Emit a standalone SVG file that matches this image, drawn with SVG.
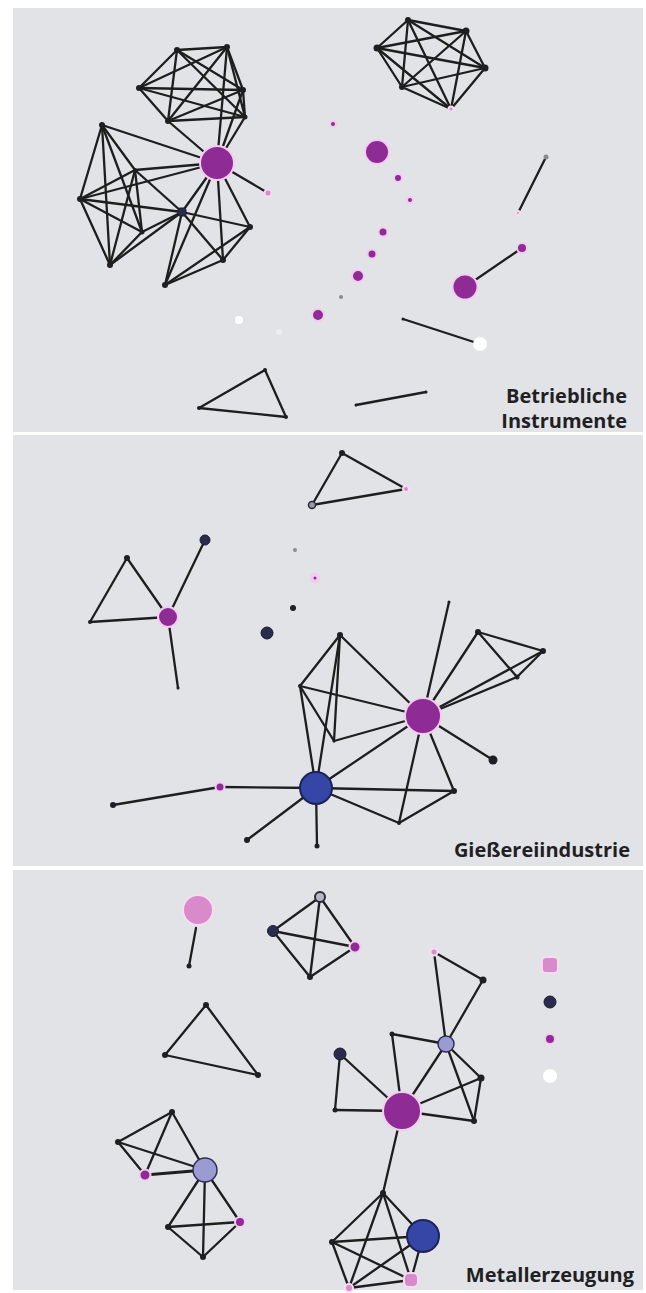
<svg xmlns="http://www.w3.org/2000/svg" width="646" height="1293" viewBox="0 0 646 1293">
<style>
.bg{fill:#e2e3e6}
.e line{stroke:#1e1e1e;stroke-width:2.3;stroke-linecap:round}
.k{fill:#1e1e24}
.nv{fill:#2b2b4e;stroke:#1a1a30;stroke-width:1}
.mg{fill:#8e2b94;stroke:#f2cdef;stroke-width:2}
.pk{fill:#d98acb;stroke:#f5dcf0;stroke-width:2}
.bl{fill:#3546a6;stroke:#1c2358;stroke-width:2}
.lv{fill:#9b9bd2;stroke:#2e2e58;stroke-width:1.5}
.wh{fill:#ffffff}
.gr{fill:#8a8a92}
.lbl{font-family:"Open Sans","DejaVu Sans",sans-serif;font-weight:bold;font-size:20px;fill:#1f1f24;text-anchor:end}
</style>
<rect width="646" height="1293" fill="#ffffff"/>
<rect class="bg" x="13" y="8" width="630" height="424"/>
<rect class="bg" x="13" y="435" width="630" height="431"/>
<rect class="bg" x="13" y="870" width="630" height="420"/>
<g id="connectors" class="e">
<line x1="177" y1="50" x2="227" y2="47"/><line x1="177" y1="50" x2="243" y2="90"/><line x1="177" y1="50" x2="245" y2="117"/><line x1="177" y1="50" x2="168" y2="121"/><line x1="177" y1="50" x2="139" y2="88"/>
<line x1="227" y1="47" x2="243" y2="90"/><line x1="227" y1="47" x2="245" y2="117"/><line x1="227" y1="47" x2="168" y2="121"/><line x1="227" y1="47" x2="139" y2="88"/>
<line x1="243" y1="90" x2="245" y2="117"/><line x1="243" y1="90" x2="168" y2="121"/><line x1="243" y1="90" x2="139" y2="88"/>
<line x1="245" y1="117" x2="168" y2="121"/><line x1="245" y1="117" x2="139" y2="88"/>
<line x1="168" y1="121" x2="139" y2="88"/>
<line x1="217" y1="163" x2="168" y2="121"/><line x1="217" y1="163" x2="245" y2="117"/><line x1="217" y1="163" x2="243" y2="90"/><line x1="217" y1="163" x2="227" y2="47"/>
<line x1="102" y1="125" x2="80" y2="199"/><line x1="102" y1="125" x2="110" y2="265"/><line x1="102" y1="125" x2="142" y2="232"/><line x1="102" y1="125" x2="135" y2="170"/>
<line x1="80" y1="199" x2="110" y2="265"/><line x1="80" y1="199" x2="142" y2="232"/><line x1="80" y1="199" x2="135" y2="170"/>
<line x1="110" y1="265" x2="142" y2="232"/><line x1="110" y1="265" x2="135" y2="170"/>
<line x1="142" y1="232" x2="135" y2="170"/>
<line x1="217" y1="163" x2="102" y2="125"/><line x1="217" y1="163" x2="135" y2="170"/><line x1="217" y1="163" x2="80" y2="199"/>
<line x1="182" y1="212" x2="80" y2="199"/><line x1="182" y1="212" x2="110" y2="265"/><line x1="182" y1="212" x2="142" y2="232"/><line x1="182" y1="212" x2="135" y2="170"/>
<line x1="182" y1="212" x2="217" y2="163"/><line x1="182" y1="212" x2="165" y2="285"/><line x1="182" y1="212" x2="250" y2="227"/><line x1="182" y1="212" x2="223" y2="260"/>
<line x1="217" y1="163" x2="250" y2="227"/><line x1="217" y1="163" x2="223" y2="260"/><line x1="217" y1="163" x2="165" y2="285"/>
<line x1="250" y1="227" x2="223" y2="260"/><line x1="250" y1="227" x2="165" y2="285"/><line x1="223" y1="260" x2="165" y2="285"/>
<line x1="217" y1="163" x2="268" y2="193"/>
<line x1="408" y1="20" x2="466" y2="31"/><line x1="408" y1="20" x2="485" y2="68"/><line x1="408" y1="20" x2="451" y2="109"/><line x1="408" y1="20" x2="402" y2="87"/><line x1="408" y1="20" x2="377" y2="48"/>
<line x1="466" y1="31" x2="485" y2="68"/><line x1="466" y1="31" x2="451" y2="109"/><line x1="466" y1="31" x2="402" y2="87"/><line x1="466" y1="31" x2="377" y2="48"/>
<line x1="485" y1="68" x2="451" y2="109"/><line x1="485" y1="68" x2="402" y2="87"/><line x1="485" y1="68" x2="377" y2="48"/>
<line x1="451" y1="109" x2="402" y2="87"/><line x1="451" y1="109" x2="377" y2="48"/>
<line x1="402" y1="87" x2="377" y2="48"/>
<line x1="546" y1="157" x2="518" y2="213"/>
<line x1="465" y1="287" x2="522" y2="248"/>
<line x1="403" y1="319" x2="480" y2="344"/>
<line x1="265" y1="370" x2="199" y2="408"/><line x1="265" y1="370" x2="286" y2="417"/><line x1="199" y1="408" x2="286" y2="417"/>
<line x1="356" y1="405" x2="426" y2="392"/>
<line x1="342" y1="453" x2="312" y2="505"/><line x1="342" y1="453" x2="406" y2="489"/><line x1="312" y1="505" x2="406" y2="489"/>
<line x1="127" y1="558" x2="90" y2="622"/><line x1="127" y1="558" x2="168" y2="617"/><line x1="90" y1="622" x2="168" y2="617"/>
<line x1="168" y1="617" x2="205" y2="540"/><line x1="168" y1="617" x2="178" y2="688"/>
<line x1="340" y1="635" x2="300" y2="686"/><line x1="340" y1="635" x2="423" y2="716"/><line x1="340" y1="635" x2="316" y2="788"/><line x1="340" y1="635" x2="334" y2="741"/>
<line x1="300" y1="686" x2="423" y2="716"/><line x1="300" y1="686" x2="316" y2="788"/><line x1="300" y1="686" x2="334" y2="741"/>
<line x1="334" y1="741" x2="423" y2="716"/><line x1="316" y1="788" x2="423" y2="716"/>
<line x1="316" y1="788" x2="454" y2="791"/><line x1="316" y1="788" x2="399" y2="823"/>
<line x1="423" y1="716" x2="449" y2="602"/><line x1="423" y1="716" x2="478" y2="632"/><line x1="423" y1="716" x2="543" y2="651"/><line x1="423" y1="716" x2="517" y2="677"/>
<line x1="478" y1="632" x2="543" y2="651"/><line x1="478" y1="632" x2="517" y2="677"/><line x1="517" y1="677" x2="543" y2="651"/>
<line x1="423" y1="716" x2="493" y2="760"/><line x1="423" y1="716" x2="454" y2="791"/><line x1="423" y1="716" x2="399" y2="823"/><line x1="454" y1="791" x2="399" y2="823"/>
<line x1="316" y1="788" x2="220" y2="787"/><line x1="220" y1="787" x2="113" y2="805"/>
<line x1="316" y1="788" x2="247" y2="840"/><line x1="316" y1="788" x2="317" y2="846"/>
<line x1="196" y1="928" x2="189" y2="966"/>
<line x1="320" y1="897" x2="273" y2="931"/><line x1="320" y1="897" x2="355" y2="947"/><line x1="320" y1="897" x2="310" y2="977"/>
<line x1="273" y1="931" x2="355" y2="947"/><line x1="273" y1="931" x2="310" y2="977"/><line x1="355" y1="947" x2="310" y2="977"/>
<line x1="206" y1="1005" x2="165" y2="1055"/><line x1="206" y1="1005" x2="258" y2="1075"/><line x1="165" y1="1055" x2="258" y2="1075"/>
<line x1="434" y1="952" x2="483" y2="980"/><line x1="434" y1="952" x2="446" y2="1044"/><line x1="483" y1="980" x2="446" y2="1044"/>
<line x1="392" y1="1034" x2="446" y2="1044"/><line x1="392" y1="1034" x2="402" y2="1111"/><line x1="446" y1="1044" x2="402" y2="1111"/>
<line x1="446" y1="1044" x2="481" y2="1078"/><line x1="446" y1="1044" x2="474" y2="1121"/>
<line x1="402" y1="1111" x2="481" y2="1078"/><line x1="402" y1="1111" x2="474" y2="1121"/><line x1="481" y1="1078" x2="474" y2="1121"/>
<line x1="340" y1="1054" x2="335" y2="1110"/><line x1="340" y1="1054" x2="402" y2="1111"/><line x1="335" y1="1110" x2="402" y2="1111"/>
<line x1="402" y1="1111" x2="383" y2="1193"/>
<line x1="172" y1="1112" x2="118" y2="1142"/><line x1="172" y1="1112" x2="145" y2="1175"/><line x1="172" y1="1112" x2="205" y2="1170"/>
<line x1="118" y1="1142" x2="145" y2="1175"/><line x1="118" y1="1142" x2="205" y2="1170"/><line x1="145" y1="1175" x2="205" y2="1170" style="stroke-width:3"/>
<line x1="205" y1="1170" x2="240" y2="1222"/><line x1="205" y1="1170" x2="168" y2="1227"/><line x1="205" y1="1170" x2="203" y2="1257"/>
<line x1="168" y1="1227" x2="240" y2="1222"/><line x1="168" y1="1227" x2="203" y2="1257"/><line x1="240" y1="1222" x2="203" y2="1257"/>
<line x1="383" y1="1193" x2="332" y2="1242"/><line x1="383" y1="1193" x2="423" y2="1236"/><line x1="383" y1="1193" x2="411" y2="1280"/><line x1="383" y1="1193" x2="349" y2="1288"/>
<line x1="332" y1="1242" x2="423" y2="1236"/><line x1="332" y1="1242" x2="411" y2="1280"/><line x1="332" y1="1242" x2="349" y2="1288"/>
<line x1="423" y1="1236" x2="411" y2="1280"/><line x1="423" y1="1236" x2="349" y2="1288"/><line x1="411" y1="1280" x2="349" y2="1288"/>
</g>
<g id="panel1-nodes">
<g id="n-t1"><circle class="k" cx="177" cy="50" r="3"/></g>
<g id="n-t2"><circle class="k" cx="227" cy="47" r="3"/></g>
<g id="n-t3"><circle class="k" cx="243" cy="90" r="3"/></g>
<g id="n-t4"><circle class="k" cx="245" cy="117" r="2.5"/></g>
<g id="n-t5"><circle class="k" cx="168" cy="121" r="3"/></g>
<g id="n-t6"><circle class="k" cx="139" cy="88" r="3"/></g>
<g id="n-l1"><circle class="k" cx="102" cy="125" r="3"/></g>
<g id="n-l2"><circle class="k" cx="80" cy="199" r="3"/></g>
<g id="n-l3"><circle class="k" cx="110" cy="265" r="3"/></g>
<g id="n-l4"><circle class="k" cx="142" cy="232" r="2.5"/></g>
<g id="n-l5"><circle class="k" cx="135" cy="170" r="2"/></g>
<g id="n-nv1"><rect class="nv" x="178" y="208" width="8" height="8" rx="2"/></g>
<g id="n-b1"><circle class="k" cx="250" cy="227" r="3"/></g>
<g id="n-b2"><circle class="k" cx="223" cy="260" r="3"/></g>
<g id="n-b3"><circle class="k" cx="165" cy="285" r="3"/></g>
<g id="n-hub1"><circle class="mg" cx="217" cy="163" r="17"/></g>
<g id="n-p1"><circle class="pk" cx="268" cy="193" r="3.5"/></g>
<g id="n-r1"><circle class="k" cx="408" cy="20" r="3"/></g>
<g id="n-r2"><circle class="k" cx="466" cy="31" r="3.5"/></g>
<g id="n-r3"><circle class="k" cx="485" cy="68" r="3.5"/></g>
<g id="n-r4"><circle class="pk" cx="451" cy="109" r="2.5"/></g>
<g id="n-r5"><circle class="k" cx="402" cy="87" r="3"/></g>
<g id="n-r6"><circle class="k" cx="377" cy="48" r="3.5"/></g>
<g id="n-d1"><circle class="mg" cx="333" cy="124" r="3"/></g>
<g id="n-d2"><circle class="mg" cx="377" cy="152" r="12"/></g>
<g id="n-d3"><circle class="mg" cx="398" cy="178" r="4"/></g>
<g id="n-d4"><circle class="mg" cx="410" cy="200" r="3"/></g>
<g id="n-d5"><circle class="mg" cx="383" cy="232" r="4.5"/></g>
<g id="n-d6"><circle class="mg" cx="372" cy="254" r="4.5"/></g>
<g id="n-d7"><circle class="mg" cx="358" cy="276" r="6"/></g>
<g id="n-d8"><circle class="gr" cx="341" cy="297" r="2"/></g>
<g id="n-d9"><circle class="mg" cx="318" cy="315" r="6"/></g>
<g id="n-w1"><circle class="wh" cx="239" cy="320" r="4"/></g>
<g id="n-w2"><circle fill="#eeeef0" cx="279" cy="332" r="3"/></g>
<g id="n-s1"><circle class="gr" cx="546" cy="157" r="2.5"/></g>
<g id="n-s2"><circle class="pk" cx="518" cy="213" r="2"/></g>
<g id="n-m2"><circle class="mg" cx="465" cy="287" r="12.5"/></g>
<g id="n-m3"><circle class="mg" cx="522" cy="248" r="5"/></g>
<g id="n-w3"><circle class="wh" cx="480" cy="344" r="7"/></g>
<g id="n-q1"><circle class="k" cx="403" cy="319" r="1.5"/></g>
<g id="n-tr1"><circle class="k" cx="265" cy="370" r="2"/></g>
<g id="n-tr2"><circle class="k" cx="199" cy="408" r="2"/></g>
<g id="n-tr3"><circle class="k" cx="286" cy="417" r="2"/></g>
<g id="n-ln1"><circle class="k" cx="356" cy="405" r="1.5"/></g>
<g id="n-ln2"><circle class="k" cx="426" cy="392" r="1.5"/></g>
</g>
<g id="panel2-nodes">
<g id="n2-a"><circle class="k" cx="342" cy="453" r="3"/></g>
<g id="n2-b"><circle fill="#9a9aa6" stroke="#2a2a30" stroke-width="1.5" cx="312" cy="505" r="3.5"/></g>
<g id="n2-c"><circle class="pk" cx="406" cy="489" r="3"/></g>
<g id="n2-d1"><circle class="gr" cx="295" cy="550" r="2"/></g>
<g id="n2-d2"><circle class="mg" cx="315" cy="578" r="3.5" style="stroke-width:4"/></g>
<g id="n2-d3"><circle class="k" cx="293" cy="608" r="3"/></g>
<g id="n2-d4"><circle class="nv" cx="267" cy="633" r="6"/></g>
<g id="n2-e"><circle class="k" cx="127" cy="558" r="3"/></g>
<g id="n2-f"><circle class="k" cx="90" cy="622" r="2"/></g>
<g id="n2-hub"><circle class="mg" cx="168" cy="617" r="10"/></g>
<g id="n2-g"><circle class="nv" cx="205" cy="540" r="5"/></g>
<g id="n2-h"><circle class="k" cx="178" cy="688" r="1.5"/></g>
<g id="n2-i"><circle class="k" cx="449" cy="602" r="1.5"/></g>
<g id="n2-j"><circle class="k" cx="478" cy="632" r="3"/></g>
<g id="n2-k"><circle class="k" cx="543" cy="651" r="3"/></g>
<g id="n2-l"><circle class="k" cx="517" cy="677" r="2.5"/></g>
<g id="n2-m"><circle class="k" cx="493" cy="760" r="4.5"/></g>
<g id="n2-n"><circle class="k" cx="454" cy="791" r="3"/></g>
<g id="n2-o"><circle class="k" cx="399" cy="823" r="2"/></g>
<g id="n2-p"><circle class="k" cx="340" cy="635" r="3"/></g>
<g id="n2-q"><circle class="k" cx="300" cy="686" r="2"/></g>
<g id="n2-r"><circle class="k" cx="334" cy="741" r="1.5"/></g>
<g id="n2-s"><circle class="k" cx="317" cy="846" r="2.5"/></g>
<g id="n2-t"><circle class="k" cx="247" cy="840" r="3"/></g>
<g id="n2-u"><circle class="k" cx="113" cy="805" r="3"/></g>
<g id="n2-v"><circle class="mg" cx="220" cy="787" r="4.5"/></g>
<g id="n2-hub2"><circle class="mg" cx="423" cy="716" r="18"/></g>
<g id="n2-hub3"><circle class="bl" cx="316" cy="788" r="16"/></g>
</g>
<g id="panel3-nodes">
<g id="n3-pk"><circle class="pk" cx="198" cy="910" r="15"/></g>
<g id="n3-a"><circle class="k" cx="189" cy="966" r="2.5"/></g>
<g id="n3-b"><circle fill="#b8b8c2" stroke="#2a2a34" stroke-width="2" cx="320" cy="897" r="5"/></g>
<g id="n3-c"><circle class="nv" cx="273" cy="931" r="5.5"/></g>
<g id="n3-d"><circle class="mg" cx="355" cy="947" r="5.5"/></g>
<g id="n3-e"><circle class="k" cx="310" cy="977" r="3"/></g>
<g id="n3-f"><circle class="k" cx="206" cy="1005" r="3"/></g>
<g id="n3-g"><circle class="k" cx="165" cy="1055" r="3"/></g>
<g id="n3-h"><circle class="k" cx="258" cy="1075" r="3"/></g>
<g id="n3-i"><circle class="pk" cx="434" cy="952" r="3.5"/></g>
<g id="n3-j"><circle class="k" cx="483" cy="980" r="3.5"/></g>
<g id="n3-k"><circle class="lv" cx="446" cy="1044" r="8"/></g>
<g id="n3-l"><circle class="k" cx="392" cy="1034" r="2.5"/></g>
<g id="n3-m"><circle class="nv" cx="340" cy="1054" r="6"/></g>
<g id="n3-n"><circle class="k" cx="335" cy="1110" r="2.5"/></g>
<g id="n3-o"><circle class="k" cx="481" cy="1078" r="3.5"/></g>
<g id="n3-p"><circle class="k" cx="474" cy="1121" r="3"/></g>
<g id="n3-hub"><circle class="mg" cx="402" cy="1111" r="19"/></g>
<g id="n3-q"><circle class="k" cx="172" cy="1112" r="3"/></g>
<g id="n3-r"><circle class="k" cx="118" cy="1142" r="3"/></g>
<g id="n3-s"><circle class="mg" cx="145" cy="1175" r="5.5"/></g>
<g id="n3-t"><circle class="lv" cx="205" cy="1170" r="12"/></g>
<g id="n3-u"><circle class="mg" cx="240" cy="1222" r="5"/></g>
<g id="n3-v"><circle class="k" cx="168" cy="1227" r="3"/></g>
<g id="n3-w"><circle class="k" cx="203" cy="1257" r="3"/></g>
<g id="n3-x"><circle class="k" cx="383" cy="1193" r="3"/></g>
<g id="n3-y"><circle class="k" cx="332" cy="1242" r="3"/></g>
<g id="n3-z"><circle class="bl" cx="423" cy="1236" r="16"/></g>
<g id="n3-aa"><rect class="pk" x="404" y="1273" width="14" height="14" rx="5"/></g>
<g id="n3-bb"><circle class="pk" cx="349" cy="1288" r="4"/></g>
<g id="legend">
<rect class="pk" x="542" y="957" width="16" height="16" rx="4"/>
<circle class="nv" cx="550" cy="1002" r="6"/>
<circle class="mg" cx="550" cy="1039" r="5"/>
<circle class="wh" cx="550" cy="1076" r="7"/>
</g>
</g>
<g id="labels">
<text class="lbl" x="627" y="403">Betriebliche</text>
<text class="lbl" x="627" y="428">Instrumente</text>
<text class="lbl" x="630" y="857">Gießereiindustrie</text>
<text class="lbl" x="634" y="1282">Metallerzeugung</text>
</g>
</svg>
